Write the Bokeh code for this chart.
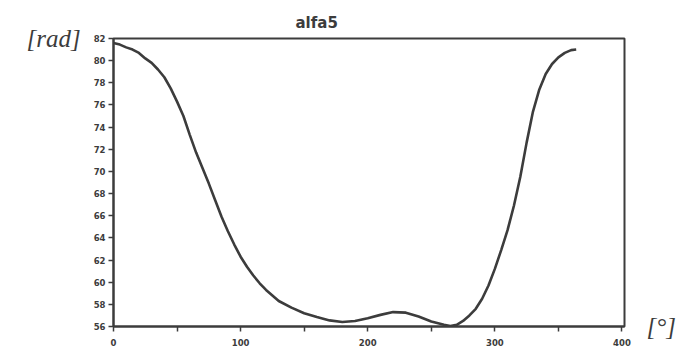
from bokeh.plotting import figure
from bokeh.models import FixedTicker, LinearAxis, Range1d
from bokeh.embed import file_html
from bokeh.resources import INLINE

angle_deg = [0, 5, 10, 15, 20, 25, 30, 35, 40, 45, 50, 55, 60, 65, 70, 75, 80, 85,
             90, 95, 100, 105, 110, 115, 120, 125, 130, 140, 150, 160, 170, 180,
             190, 200, 210, 220, 230, 240, 250, 260, 265, 270, 275, 280, 285, 290,
             295, 300, 305, 310, 315, 320, 325, 330, 335, 340, 345, 350, 355, 360, 364]
alfa5_rad = [81.6, 81.45, 81.2, 81.0, 80.7, 80.2, 79.8, 79.2, 78.5, 77.5, 76.3, 75.0,
             73.3, 71.7, 70.3, 68.9, 67.4, 65.9, 64.6, 63.4, 62.3, 61.4, 60.6, 59.9,
             59.3, 58.8, 58.3, 57.7, 57.2, 56.85, 56.55, 56.4, 56.5, 56.75, 57.05,
             57.3, 57.25, 56.9, 56.45, 56.15, 56.05, 56.15, 56.5, 57.0, 57.6, 58.5,
             59.7, 61.2, 62.9, 64.7, 66.9, 69.5, 72.6, 75.4, 77.4, 78.8, 79.7, 80.3,
             80.7, 80.95, 81.0]
y_ticks = [56, 58, 60, 62, 64, 66, 68, 70, 72, 74, 76, 78, 80, 82]
x_ticks = [0, 100, 200, 300, 400]
x_minor = [50, 150, 250, 350]

ink = "#3c3c3c"

p = figure(width=679, height=354, output_backend="svg", toolbar_location=None,
           x_range=Range1d(0, 402), y_range=Range1d(56, 82),
           min_border_left=113, min_border_right=55, min_border_top=38,
           min_border_bottom=28, title="alfa5")
p.title.align = "left"
p.title.offset = 182
p.title.vertical_align = "top"
p.title.text_font = "DejaVu Sans"
p.title.text_font_style = "bold"
p.title.text_font_size = "15px"
p.title.text_color = ink

p.background_fill_color = "white"
p.border_fill_color = "white"
p.grid.visible = False
p.outline_line_color = ink
p.outline_line_width = 2

p.line(angle_deg, alfa5_rad, line_color=ink, line_width=2.6)

p.xaxis.ticker = FixedTicker(ticks=x_ticks, minor_ticks=x_minor)
p.yaxis.ticker = FixedTicker(ticks=y_ticks)
for ax in (p.xaxis, p.yaxis):
    ax.axis_line_color = ink
    ax.axis_line_width = 2
    ax.major_tick_line_color = ink
    ax.major_tick_line_width = 1.5
    ax.major_tick_out = 5
    ax.major_tick_in = 0
    ax.minor_tick_line_color = ink
    ax.minor_tick_line_width = 1.5
    ax.minor_tick_out = 5
    ax.minor_tick_in = 0
    ax.major_label_text_font = "DejaVu Sans"
    ax.major_label_text_font_style = "bold"
    ax.major_label_text_font_size = "8.5px"
    ax.major_label_text_color = ink
p.yaxis.minor_tick_line_color = None
p.xaxis.major_label_standoff = 7
p.yaxis.major_label_standoff = 3

p.yaxis.axis_label = "[rad]"
p.yaxis.axis_label_orientation = "horizontal"
p.yaxis.axis_label_align = "end"
p.yaxis.axis_label_standoff = 10
p.yaxis.axis_label_text_font = "Liberation Serif"
p.yaxis.axis_label_text_font_style = "italic"
p.yaxis.axis_label_text_font_size = "25px"
p.yaxis.axis_label_text_color = ink

deg_axis = LinearAxis(ticker=FixedTicker(ticks=[]), axis_label="[°]",
                      axis_line_color=None, major_tick_line_color=None,
                      minor_tick_line_color=None)
deg_axis.axis_label_orientation = "horizontal"
deg_axis.axis_label_align = "start"
deg_axis.axis_label_standoff = 22
deg_axis.axis_label_text_font = "Liberation Serif"
deg_axis.axis_label_text_font_style = "italic"
deg_axis.axis_label_text_font_size = "25px"
deg_axis.axis_label_text_color = ink
p.add_layout(deg_axis, "right")

open("out.html", "w").write(file_html(p, INLINE))
